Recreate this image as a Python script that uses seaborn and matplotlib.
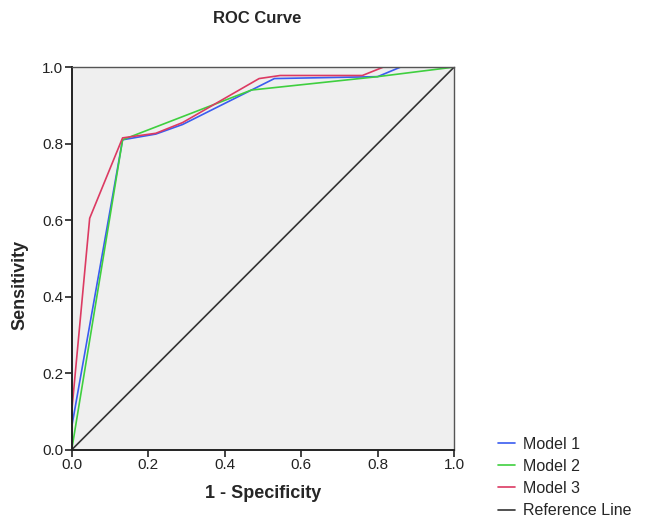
import numpy as np
import pandas as pd
import matplotlib
matplotlib.use("Agg")
import matplotlib.pyplot as plt
import seaborn as sns

# ROC points (1 - specificity, sensitivity)
m1_fpr = [0.0, 0.0, 0.133, 0.22, 0.29, 0.37, 0.53, 0.80, 0.86, 1.0]
m1_tpr = [0.0, 0.06, 0.81, 0.825, 0.85, 0.89, 0.97, 0.975, 1.0, 1.0]

m2_fpr = [0.0, 0.133, 0.47, 0.80, 1.0]
m2_tpr = [0.0, 0.81, 0.94, 0.975, 1.0]

m3_fpr = [0.0, 0.0, 0.047, 0.133, 0.22, 0.29, 0.49, 0.545, 0.76, 0.815, 1.0]
m3_tpr = [0.0, 0.10, 0.605, 0.815, 0.827, 0.855, 0.97, 0.978, 0.978, 1.0, 1.0]

ref_x = [0.0, 1.0]
ref_y = [0.0, 1.0]

names = ["Model 1", "Model 2", "Model 3", "Reference Line"]
colors = ["#3a5cf0", "#3fcf3f", "#dc3a62", "#333333"]

frames = []
for name, xs, ys in zip(names, [m1_fpr, m2_fpr, m3_fpr, ref_x], [m1_tpr, m2_tpr, m3_tpr, ref_y]):
    frames.append(pd.DataFrame({"fpr": xs, "tpr": ys, "curve": name}))
df = pd.concat(frames, ignore_index=True)

sns.set_theme(style="white")
plt.rcParams["font.family"] = ["Liberation Sans", "DejaVu Sans"]

fig = plt.figure(figsize=(6.46, 5.2), dpi=100)
ax = fig.add_axes([0.111, 0.135, 0.592, 0.736])
ax.set_facecolor("#efefef")

sns.lineplot(data=df, x="fpr", y="tpr", hue="curve", hue_order=names,
             palette=dict(zip(names, colors)), sort=False, estimator=None,
             linewidth=1.2, ax=ax)

ax.set_xlim(0, 1)
ax.set_ylim(0, 1)
ticks = [0.0, 0.2, 0.4, 0.6, 0.8, 1.0]
ax.set_xticks(ticks)
ax.set_yticks(ticks)
ax.set_xticklabels([f"{t:.1f}" for t in ticks], fontsize=11, color="#222222")
ax.set_yticklabels([f"{t:.1f}" for t in ticks], fontsize=11, color="#222222")
ax.tick_params(axis="both", direction="out", length=5, width=1.2, color="#222222",
               bottom=True, left=True, pad=1)

for side in ["left", "bottom"]:
    ax.spines[side].set_color("#222222")
    ax.spines[side].set_linewidth(1.4)
for side in ["top", "right"]:
    ax.spines[side].set_color("#555555")
    ax.spines[side].set_linewidth(1.0)

ax.set_xlabel("1 - Specificity", fontsize=13, fontweight="bold")
ax.xaxis.set_label_coords(0.5, -0.092)
ax.set_ylabel("Sensitivity", fontsize=13, fontweight="bold")
ax.yaxis.set_label_coords(-0.113, 0.43)
fig.text(0.398, 0.965, "ROC Curve", fontsize=12, fontweight="bold", ha="center", va="center")

handles, labels = ax.get_legend_handles_labels()
ax.legend(handles, labels, loc="lower left", bbox_to_anchor=(0.758, -0.012),
          bbox_transform=fig.transFigure, frameon=False, fontsize=11.5,
          handlelength=1.1, handletextpad=0.5, labelspacing=0.45, borderpad=0.0)

fig.savefig("out.png", dpi=100)
